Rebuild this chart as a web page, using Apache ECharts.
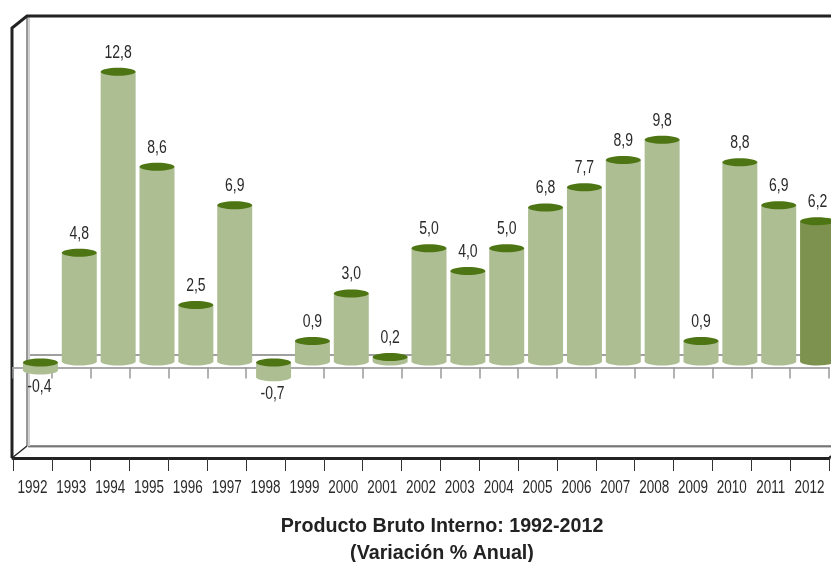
<!DOCTYPE html>
<html><head><meta charset="utf-8">
<style>html,body{margin:0;padding:0;background:#fff}#c{width:831px;height:562px}</style>
<script src="https://cdn.jsdelivr.net/npm/echarts@6/dist/echarts.min.js"></script>
</head><body><div id="c"></div>
<script>
const years = ['1992','1993','1994','1995','1996','1997','1998','1999','2000','2001','2002','2003','2004','2005','2006','2007','2008','2009','2010','2011','2012'];
const growth = [-0.4,4.8,12.8,8.6,2.5,6.9,-0.7,0.9,3.0,0.2,5.0,4.0,5.0,6.8,7.7,8.9,9.8,0.9,8.8,6.9,6.2];
const highlightedYear = '2012';
const titleLines = 'Producto Bruto Interno: 1992-2012\n(Variación % Anual)';

const BODY='#AEBE93', HIGHLIGHT='#7C924E', CAP='#4E7513';
const FONT='"Liberation Sans",Arial,sans-serif';
const G={left:13,right:829,top:28,bottom:458,dx:15,dy:12,zero:367};
const DEPTH_X=8, DEPTH_Y=6, BAR_W=35, RY=4;

function narrowText(text,x,y,size,scale){
  return {type:'text',x,y,scaleX:scale,style:{text,x:0,y:0,align:'center',verticalAlign:'middle',fill:'#2a2a2a',font:size+'px '+FONT}};
}
function renderBar(params, api){
  const i=api.value(0), v=api.value(1);
  const base=api.coord([i,0]), end=api.coord([i,v]), floor=api.coord([i,-4]);
  const cx=base[0]+DEPTH_X;
  const neg=v<0;
  const yTop=(neg?base[1]+1:end[1])-DEPTH_Y;
  const yBot=(neg?end[1]:base[1])-DEPTH_Y;
  const fill=years[i]===highlightedYear?HIGHLIGHT:BODY;
  const label=v.toFixed(1).replace('.',',');
  return {type:'group',children:[
    {type:'rect',shape:{x:cx-BAR_W/2,y:yTop,width:BAR_W,height:yBot-yTop},style:{fill}},
    {type:'ellipse',shape:{cx,cy:yBot,rx:BAR_W/2,ry:RY},style:{fill}},
    {type:'ellipse',shape:{cx,cy:yTop,rx:BAR_W/2,ry:RY},style:{fill:CAP}},
    narrowText(label,neg?cx-1:cx,neg?yBot+17:yTop-19,17.5,0.8),
    narrowText(years[i],floor[0],floor[1]+30,17.5,0.77)
  ]};
}
function line(points,stroke,width){
  return {type:'polyline',silent:true,z:0,shape:{points},style:{fill:null,stroke,lineWidth:width}};
}
const chart=echarts.init(document.getElementById('c'),null,{renderer:'canvas'});
chart.setOption({
  animation:false,backgroundColor:'#fff',
  grid:{left:G.left,right:831-G.right,top:G.top,bottom:562-G.bottom},
  title:{text:titleLines,left:442,top:513,padding:0,textAlign:'center',
    textStyle:{fontFamily:FONT,fontSize:19.7,fontWeight:'bold',color:'#222',lineHeight:27}},
  xAxis:[
    {type:'category',data:years,position:'bottom',
     axisLine:{onZero:false,lineStyle:{color:'#222',width:3}},
     axisTick:{show:true,alignWithLabel:false,length:13,lineStyle:{color:'#333',width:1}},
     axisLabel:{show:false},
     splitLine:{show:false}},
    {type:'category',data:years,position:'top',
     axisLine:{onZero:true,lineStyle:{color:'#aaa',width:2}},
     axisTick:{show:true,inside:true,length:11,lineStyle:{color:'#999',width:1.5}},
     axisLabel:{show:false},splitLine:{show:false}}
  ],
  yAxis:{type:'value',min:-4,max:15,interval:1,show:false},
  graphic:[
    line([[G.left+G.dx,G.zero-G.dy],[831,G.zero-G.dy]],'#a0a0a0',2),
    line([[G.left+G.dx,G.bottom-G.dy+1],[831,G.bottom-G.dy+1]],'#c8c8c8',2),
    line([[G.left+G.dx,G.bottom-G.dy],[831,G.bottom-G.dy]],'#222',1.2),
    line([[G.left+G.dx+1,G.top-G.dy],[G.left+G.dx+1,G.bottom-G.dy]],'#cfcfcf',2),
    line([[G.left+G.dx-1,G.top-G.dy],[G.left+G.dx-1,G.bottom-G.dy]],'#333',1),
    line([[G.left-1,G.bottom],[G.left+G.dx-1,G.bottom-G.dy]],'#222',1.5),
    line([[G.left-1,G.bottom],[G.left-1,G.top],[G.left+G.dx-1,G.top-G.dy],[831,G.top-G.dy]],'#222',3),
    line([[G.right,G.bottom],[831,G.bottom-2]],'#222',2)
  ],
  series:[{type:'custom',xAxisIndex:0,yAxisIndex:0,z:5,clip:false,
    encode:{x:0,y:1},
    data:growth.map((v,i)=>[i,v]),
    renderItem:renderBar}]
});
</script></body></html>
